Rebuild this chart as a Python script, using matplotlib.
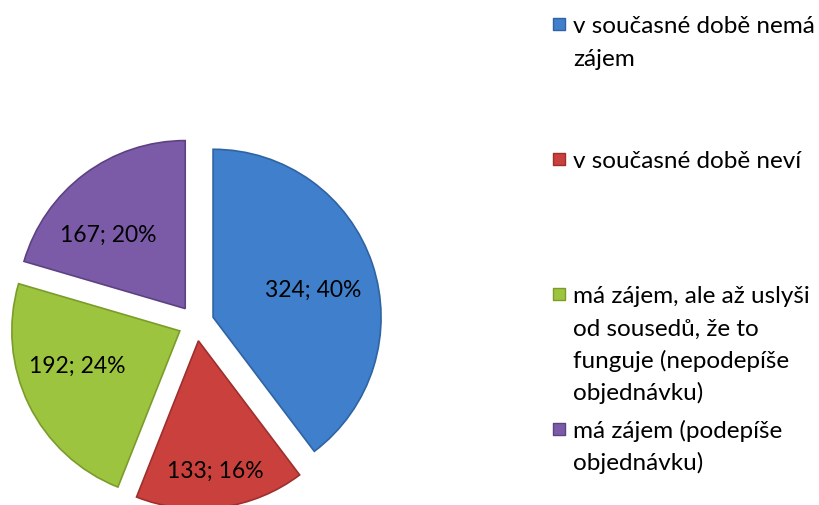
import matplotlib
matplotlib.use("Agg")
import matplotlib.pyplot as plt

# data
labels = ["v současné době nemá\nzájem",
          "v současné době neví",
          "má zájem, ale až uslyši\nod sousedů, že to\nfunguje (nepodepíše\nobjednávku)",
          "má zájem (podepíše\nobjednávku)"]
values = [324, 133, 192, 167]
colors = ["#3f7fcb", "#c9403d", "#9dc43e", "#7b5ba8"]
edge_colors = ["#2f63a3", "#9e2f2d", "#7b9c2c", "#5d4282"]

plt.rcParams['font.family'] = ['Lato', 'DejaVu Sans']

W, H = 819, 506
fig = plt.figure(figsize=(W / 100, H / 100), dpi=100)
ax = fig.add_axes([0, 0, 1, 1])

total = sum(values)
# explode is in data units here (pixels)
wedges, texts = ax.pie(values, colors=colors, startangle=90, counterclock=False,
                       center=(196, H - 324), radius=168, explode=[18] * 4,
                       wedgeprops=dict(linewidth=1.2), frame=True)
for w, ec in zip(wedges, edge_colors):
    w.set_edgecolor(ec)
ax.axis("off")
ax.set_xlim(0, W)
ax.set_ylim(0, H)

# data labels inside the slices
label_pos = [(313, 290), (215, 471), (77, 366), (108, 235)]
for v, (lx, ly) in zip(values, label_pos):
    ax.text(lx, H - ly, f"{v}; {round(v / total * 100)}%", ha="center", va="center",
            fontsize=16.5, color="black")

# legend on the right
for i, (lab, c, ec) in enumerate(zip(labels, colors, edge_colors)):
    base = 33 + i * 135
    ax.scatter([559], [H - (base - 8)], marker="s", s=75, color=c, edgecolor=ec,
               linewidth=1, clip_on=False)
    for j, line in enumerate(lab.split("\n")):
        ax.text(573, H - (base + j * 32.5), line, ha="left", va="baseline",
                fontsize=17.5, color="black")

fig.savefig("out.png", dpi=100)
